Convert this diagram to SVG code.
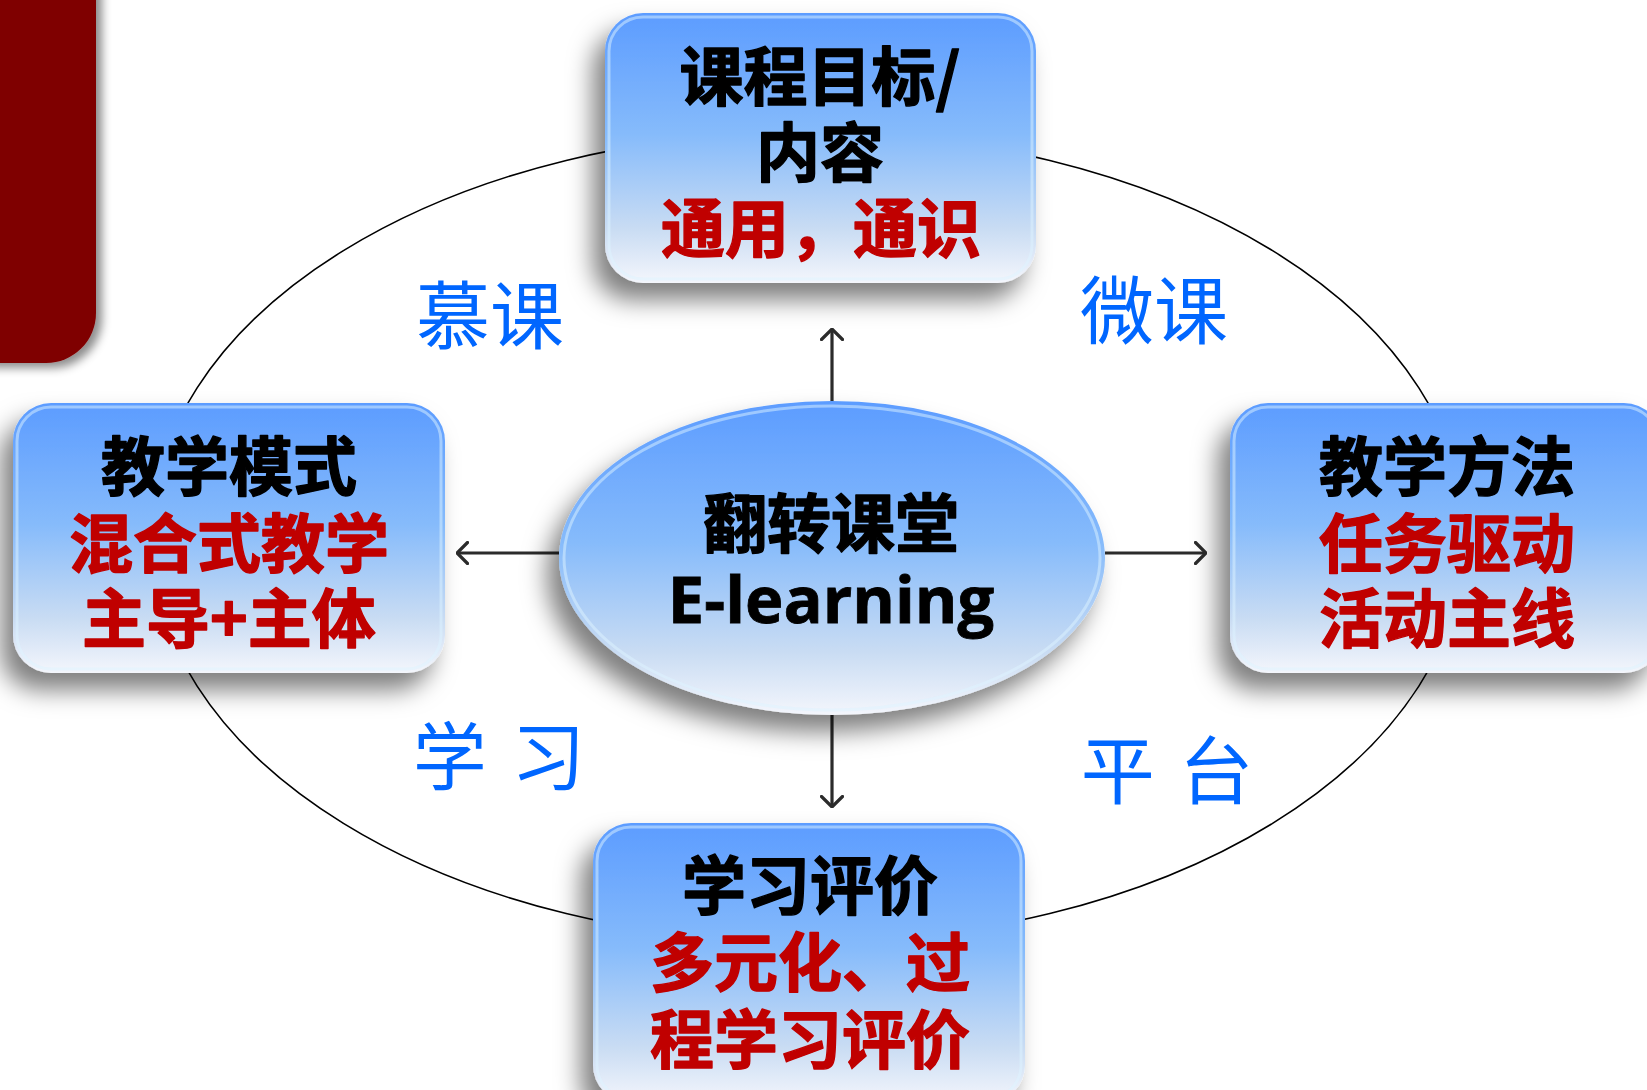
<svg xmlns="http://www.w3.org/2000/svg" width="1647" height="1090" viewBox="0 0 1647 1090">
<defs>
<linearGradient id="boxGrad" x1="0" y1="0" x2="0" y2="1">
<stop offset="0" stop-color="#5C9CFF"/>
<stop offset="0.45" stop-color="#86BBFB"/>
<stop offset="0.8" stop-color="#C9DCF3"/>
<stop offset="1" stop-color="#F4F6FC"/>
</linearGradient>
<linearGradient id="ellGrad" x1="0" y1="0" x2="0" y2="1">
<stop offset="0" stop-color="#5C9CFF"/>
<stop offset="0.45" stop-color="#86BBFB"/>
<stop offset="0.8" stop-color="#C9DCF3"/>
<stop offset="1" stop-color="#F4F6FC"/>
</linearGradient>
<filter id="shadow" x="-20%" y="-20%" width="140%" height="150%">
<feDropShadow dx="-12" dy="17" stdDeviation="12" flood-color="#000" flood-opacity="0.5"/>
</filter>
<filter id="redShadow" x="-20%" y="-20%" width="150%" height="140%">
<feDropShadow dx="6" dy="5" stdDeviation="5" flood-color="#000" flood-opacity="0.45"/>
</filter>
<marker id="arrow" viewBox="0 0 13 24" refX="12" refY="12" markerWidth="13" markerHeight="24" markerUnits="userSpaceOnUse" orient="auto">
<path d="M1.5,1.5 L12,12 L1.5,22.5" fill="none" stroke="#2B2B2B" stroke-width="3.2" stroke-linecap="round" stroke-linejoin="round"/>
</marker>
</defs>
<style>
.box{fill:url(#boxGrad);filter:url(#shadow);}
.rim{fill:none;stroke:#DDF3FF;stroke-width:3;stroke-opacity:0.5;}
.t{font-family:"Noto Sans CJK SC","Noto Sans",sans-serif;font-weight:700;font-size:64px;text-anchor:middle;stroke-width:1.4;stroke-linejoin:round;}
.k{fill:#000;stroke:#000;}
.r{fill:#C00000;stroke:#C00000;}
.lbl{font-family:"Noto Sans CJK SC","Noto Sans",sans-serif;font-weight:400;font-size:74px;fill:#0066FF;text-anchor:middle;word-spacing:8px;}
.en{font-family:"Open Sans","Noto Sans",sans-serif;font-weight:700;font-size:65px;fill:#000;stroke:#000;stroke-width:0.8;text-anchor:middle;}
.conn{stroke:#2B2B2B;stroke-width:3.2;fill:none;marker-end:url(#arrow);}
</style>
<rect width="1647" height="1090" fill="#FFFFFF"/>

<g id="corner">
<rect x="-60" y="-60" width="156" height="423" rx="50" ry="50" fill="#7F0000" filter="url(#redShadow)"/>
</g>

<g id="ring">
<ellipse cx="808" cy="537" rx="657" ry="405" fill="none" stroke="#000" stroke-width="1.6"/>
</g>

<g id="connectors">
<line class="conn" x1="832" y1="402" x2="832" y2="329"/>
<line class="conn" x1="832" y1="713" x2="832" y2="807"/>
<line class="conn" x1="559" y1="553" x2="457" y2="553"/>
<line class="conn" x1="1105" y1="553" x2="1206" y2="553"/>
</g>

<g id="labels">
<text class="lbl" x="490" y="343">慕课</text>
<text class="lbl" x="1154" y="338">微课</text>
<text class="lbl" x="499" y="784">学 习</text>
<text class="lbl" x="1167" y="798">平 台</text>
</g>

<g id="node-top">
<rect class="box" x="605" y="13" width="431" height="270" rx="38" ry="38"/>
<rect class="rim" x="609" y="17" width="423" height="262" rx="34" ry="34"/>
<text class="t k" x="820" y="100">课程目标/</text>
<text class="t k" x="820" y="176">内容</text>
<text class="t r" x="821" y="252">通用，通识</text>
</g>

<g id="node-left">
<rect class="box" x="13" y="403" width="432" height="270" rx="38" ry="38"/>
<rect class="rim" x="17" y="407" width="424" height="262" rx="34" ry="34"/>
<text class="t k" x="229" y="490">教学模式</text>
<text class="t r" x="229" y="567">混合式教学</text>
<text class="t r" x="229" y="642">主导+主体</text>
</g>

<g id="node-right">
<rect class="box" x="1230" y="403" width="432" height="270" rx="38" ry="38"/>
<rect class="rim" x="1234" y="407" width="424" height="262" rx="34" ry="34"/>
<text class="t k" x="1447" y="490">教学方法</text>
<text class="t r" x="1447" y="567">任务驱动</text>
<text class="t r" x="1447" y="642">活动主线</text>
</g>

<g id="node-bottom">
<rect class="box" x="593" y="823" width="432" height="280" rx="38" ry="38"/>
<rect class="rim" x="597" y="827" width="424" height="272" rx="34" ry="34"/>
<text class="t k" x="810" y="909">学习评价</text>
<text class="t r" x="810" y="986">多元化、过</text>
<text class="t r" x="810" y="1063">程学习评价</text>
</g>

<g id="node-center">
<ellipse cx="832" cy="558" rx="273" ry="157" fill="url(#ellGrad)" filter="url(#shadow)"/>
<ellipse cx="832" cy="558" rx="268" ry="152" fill="none" stroke="#DDF3FF" stroke-width="3" stroke-opacity="0.5"/>
<text class="t k" x="831" y="547">翻转课堂</text>
<text class="en" x="831" y="623">E-learning</text>
</g>
</svg>
